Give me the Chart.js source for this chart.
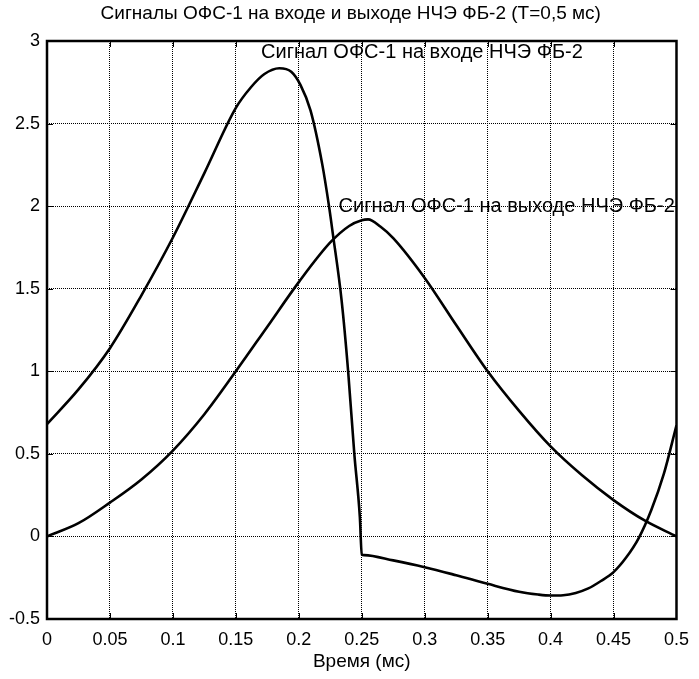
<!DOCTYPE html>
<html>
<head>
<meta charset="utf-8">
<script src="https://cdn.jsdelivr.net/npm/chart.js@4.4.0/dist/chart.umd.min.js"></script>
<style>
	html, body { margin: 0; padding: 0; background: #fff; }
</style>
</head>
<body>
<canvas id="myChart" width="699" height="679"></canvas>
<script>
// signal at the input of the filter (time in ms)
const inTime = [0, 0.025, 0.05, 0.075, 0.1, 0.125, 0.15, 0.162, 0.1727, 0.1845, 0.194, 0.2014, 0.2093,
	0.2185, 0.224, 0.227, 0.234, 0.2392, 0.2441, 0.2485, 0.25, 0.252,
	0.275, 0.3, 0.325, 0.35, 0.375, 0.39, 0.4, 0.41, 0.42, 0.43, 0.44, 0.45, 0.46, 0.47, 0.48, 0.49, 0.5];
const inValues = [0.68, 0.89, 1.14, 1.46, 1.81, 2.2, 2.595, 2.72, 2.80, 2.835, 2.814, 2.733, 2.58,
	2.259, 2.0, 1.835, 1.43, 1.0, 0.5, 0.117, -0.11, -0.113,
	-0.145, -0.186, -0.235, -0.287, -0.335, -0.352, -0.358, -0.356, -0.342, -0.315, -0.27, -0.216, -0.128,
	-0.01, 0.16, 0.38, 0.673];

// signal at the output of the filter
const outTime = [0, 0.025, 0.05, 0.075, 0.1, 0.125, 0.15, 0.175, 0.2, 0.225, 0.24, 0.25, 0.255,
	0.265, 0.275, 0.3, 0.325, 0.35, 0.375, 0.4, 0.425, 0.45, 0.475, 0.5];
const outValues = [0, 0.08, 0.205, 0.345, 0.52, 0.74, 1.0, 1.27, 1.54, 1.78, 1.88, 1.915, 1.92,
	1.875, 1.806, 1.565, 1.28, 1.0, 0.76, 0.545, 0.37, 0.22, 0.095, 0.0];

// tick labels
const xTicks = ['0', '0.05', '0.1', '0.15', '0.2', '0.25', '0.3', '0.35', '0.4', '0.45', '0.5'];
const yTicks = ['-0.5', '0', '0.5', '1', '1.5', '2', '2.5', '3'];

// texts
const chartTitle = 'Сигналы ОФС-1 на входе и выходе НЧЭ ФБ-2 (T=0,5 мс)';
const xTitle = 'Время (мс)';
const curveNames = ['Сигнал ОФС-1 на входе НЧЭ ФБ-2', 'Сигнал ОФС-1 на выходе НЧЭ ФБ-2'];

const FONT = "'Liberation Sans', Arial, sans-serif";

// builds {x, y} points out of two arrays
function toPoints(xs, ys) {
	return xs.map((x, i) => ({x: x, y: ys[i]}));
}

// draws box, inward ticks and all the texts
const decor = {
	id: 'decor',
	afterDraw(chart) {
		const ctx = chart.ctx;
		const a = chart.chartArea;
		const xs = chart.scales.x;
		const ys = chart.scales.y;
		ctx.save();
		ctx.strokeStyle = '#000';
		ctx.lineWidth = 1;
		// small ticks pointing inside
		xTicks.forEach(t => {
			const px = Math.round(xs.getPixelForValue(parseFloat(t))) + 0.5;
			ctx.beginPath();
			ctx.moveTo(px, a.bottom); ctx.lineTo(px, a.bottom - 6);
			ctx.moveTo(px, a.top); ctx.lineTo(px, a.top + 6);
			ctx.stroke();
		});
		yTicks.forEach(t => {
			const py = Math.round(ys.getPixelForValue(parseFloat(t))) + 0.5;
			ctx.beginPath();
			ctx.moveTo(a.left, py); ctx.lineTo(a.left + 6, py);
			ctx.moveTo(a.right, py); ctx.lineTo(a.right - 6, py);
			ctx.stroke();
		});
		// frame
		ctx.lineWidth = 2.5;
		ctx.strokeRect(a.left, a.top, a.right - a.left, a.bottom - a.top);

		ctx.fillStyle = '#000';
		ctx.font = '19px ' + FONT;
		ctx.textAlign = 'center';
		ctx.textBaseline = 'middle';
		ctx.fillText(chartTitle, (a.left + a.right) / 2 - 11, 14);
		ctx.fillText(xTitle, (a.left + a.right) / 2, 662);

		// curve labels
		ctx.font = '20px ' + FONT;
		ctx.textAlign = 'left';
		ctx.fillText(curveNames[0], xs.getPixelForValue(0.17), ys.getPixelForValue(2.93));
		ctx.fillText(curveNames[1], xs.getPixelForValue(0.2316), ys.getPixelForValue(2.0));
		ctx.restore();
	}
};

const myChart = document.getElementById('myChart');

let lineChart = new Chart(myChart, {
	type: 'line',
	data: {
		datasets: [{
			data: toPoints(inTime, inValues),
			borderColor: '#000',
			borderWidth: 2.6,
			pointRadius: 0,
			cubicInterpolationMode: 'monotone'
		}, {
			data: toPoints(outTime, outValues),
			borderColor: '#000',
			borderWidth: 2.6,
			pointRadius: 0,
			cubicInterpolationMode: 'monotone'
		}]
	},
	options: {
		responsive: false,
		animation: false,
		layout: {
			padding: {left: 0, right: 14, top: 41, bottom: 0}
		},
		plugins: {
			legend: {display: false},
			tooltip: {enabled: false}
		},
		scales: {
			x: {
				type: 'linear',
				min: 0,
				max: 0.5,
				afterBuildTicks: s => { s.ticks = xTicks.map(t => ({value: parseFloat(t)})); },
				afterFit: s => { s.height = 60; },
				ticks: {
					color: '#000',
					font: {family: FONT, size: 18},
					padding: 10,
					maxRotation: 0,
					autoSkip: false,
					callback: (v, i) => xTicks[i]
				},
				grid: {color: '#000', lineWidth: 1, drawTicks: false},
				border: {display: false, dash: [1, 1]}
			},
			y: {
				min: -0.5,
				max: 3,
				afterBuildTicks: s => { s.ticks = yTicks.map(t => ({value: parseFloat(t)})); },
				afterFit: s => { s.width = 47; },
				ticks: {
					color: '#000',
					font: {family: FONT, size: 18},
					padding: 7,
					autoSkip: false,
					callback: (v, i) => yTicks[i]
				},
				grid: {color: '#000', lineWidth: 1, drawTicks: false},
				border: {display: false, dash: [1, 1]}
			}
		}
	},
	plugins: [decor]
});
</script>
</body>
</html>
